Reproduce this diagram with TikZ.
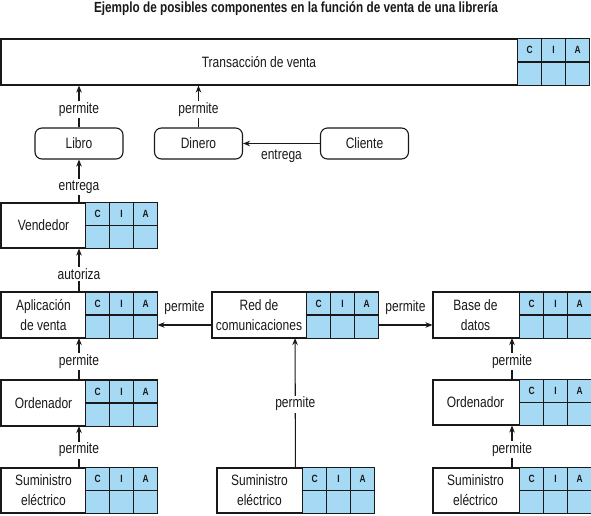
\documentclass[tikz,border=0pt]{standalone}
\usepackage{fontspec}
\setmainfont{Liberation Sans}[FakeStretch=0.8]
\usetikzlibrary{calc,arrows.meta}
\definecolor{ciablue}{RGB}{166,218,244}
\definecolor{ink}{RGB}{25,25,25}

% CIA grid at the right end of a box
\newcommand{\ciagrid}[1]{%
\fill[ciablue] ([xshift=-72pt]#1.north east) rectangle (#1.south east);
\foreach \i in {1,2,3}
  \draw ([xshift={-24pt*\i}]#1.north east) -- ([xshift={-24pt*\i}]#1.south east);
\draw ([xshift=-72pt]#1.east) -- (#1.east);
\foreach \l [count=\i] in {C,I,A}
  \node[ciatext] at ($([xshift={-84pt+24pt*\i}]#1.north east)!0.5!([xshift={-84pt+24pt*\i}]#1.east)$) {\l};
\draw (#1.north west) rectangle (#1.south east);
}

\begin{document}
\begin{tikzpicture}[x=1pt,y=-1pt,line width=1.1pt,draw=ink,
  >={Stealth[length=7pt,width=5.5pt]},
  comp/.style={draw,fill=white,minimum height=45pt,inner sep=0pt},
  txt/.style={align=center,text=ink,font=\fontsize{15}{20}\selectfont},
  ciatext/.style={text=ink,font=\bfseries\fontsize{10.5}{11}\selectfont},
  rbox/.style={draw,rounded corners=7pt,minimum width=88pt,minimum height=31pt,inner sep=0pt,text=ink,font=\fontsize{15}{20}\selectfont},
  lbl/.style={fill=white,inner sep=1.5pt,text=ink,font=\fontsize{15}{20}\selectfont}]
\useasboundingbox (0,0) rectangle (591,515);

\node[text=ink,font=\bfseries\fontsize{14.7}{16}\selectfont] (title) at (296,9) {Ejemplo de posibles componentes en la función de venta de una librería};

% top row
\node[comp,minimum width=588pt,minimum height=46pt] (trans) at (295,62) {};
\ciagrid{trans}
\node[txt] (trans-t) at (259,62) {Transacción de venta};

\node[rbox] (libro) at (79,143.5) {Libro};
\node[rbox] (dinero) at (198.5,143.5) {Dinero};
\node[rbox] (cliente) at (364.5,143.5) {Cliente};

% left column
\node[comp,minimum width=156pt] (vend) at (79,225.5) {};
\ciagrid{vend}
\node[txt] (vend-t) at (43.5,225.5) {Vendedor};
\node[comp,minimum width=156pt] (apl) at (79,315) {};
\ciagrid{apl}
\node[txt] (apl-t) at (43.5,315) {Aplicación\\de venta};
\node[comp,minimum width=156pt] (ordl) at (79,403) {};
\ciagrid{ordl}
\node[txt] (ordl-t) at (43.5,403) {Ordenador};
\node[comp,minimum width=156pt] (suml) at (79,490.5) {};
\ciagrid{suml}
\node[txt] (suml-t) at (43.5,490.5) {Suministro\\eléctrico};

% middle column
\node[comp,minimum width=166pt] (red) at (295,315) {};
\ciagrid{red}
\node[txt] (red-t) at (259,315) {Red de\\comunicaciones};
\node[comp,minimum width=157pt] (summ) at (295.5,490.5) {};
\ciagrid{summ}
\node[txt] (summ-t) at (259.5,490.5) {Suministro\\eléctrico};

% right column
\node[comp,minimum width=158pt] (base) at (512,315) {};
\ciagrid{base}
\node[txt] (base-t) at (475.5,315) {Base de\\datos};
\node[comp,minimum width=158pt] (ordr) at (512,402.5) {};
\ciagrid{ordr}
\node[txt] (ordr-t) at (475.5,402.5) {Ordenador};
\node[comp,minimum width=158pt] (sumr) at (512,490.5) {};
\ciagrid{sumr}
\node[txt] (sumr-t) at (475.5,490.5) {Suministro\\eléctrico};

% connectors
\draw[->] (libro) -- node[lbl,pos=.42] {permite} (libro |- trans.south);
\draw[->] (dinero) -- node[lbl,pos=.42] {permite} (dinero |- trans.south);
\draw[->] (cliente) -- node[txt,midway,yshift=-13pt] {entrega} (dinero);
\draw[->] (vend) -- node[lbl,pos=.36] {entrega} (libro);
\draw[->] (apl) -- node[lbl,pos=.42] {autoriza} (vend);
\draw[->] (ordl) -- node[lbl,pos=.43] {permite} (apl);
\draw[->] (suml) -- node[lbl,pos=.42] {permite} (ordl);
\draw[->] (summ) -- node[lbl,pos=.49] {permite} (red);
\draw[->] (ordr) -- node[lbl,pos=.43] {permite} (base);
\draw[->] (sumr) -- node[lbl,pos=.42] {permite} (ordr);
\draw[->] ([yshift=-10pt]red.west) -- node[txt,midway,yshift=17pt] {permite} ([yshift=-10pt]apl.east);
\draw[->] ([yshift=-10pt]red.east) -- node[txt,midway,yshift=17pt] {permite} ([yshift=-10pt]base.west);
\end{tikzpicture}
\end{document}
